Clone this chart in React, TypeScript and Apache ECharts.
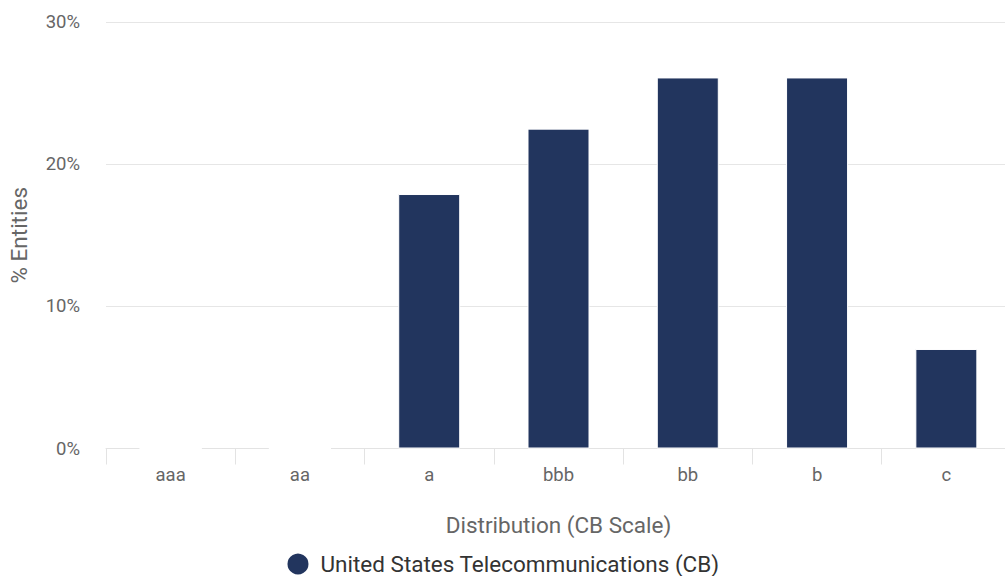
import React, { useEffect, useRef } from "react";
import * as echarts from "echarts";

const categories = ["aaa", "aa", "a", "bbb", "bb", "b", "c"];
const seriesName = "United States Telecommunications (CB)";
const values = [0, 0, 17.9, 22.5, 26.1, 26.1, 7.0];
const yTicks = [0, 10, 20, 30];

export default function App() {
  const ref = useRef<HTMLDivElement>(null);

  useEffect(() => {
    if (!ref.current) return;
    const chart = echarts.init(ref.current, null, { renderer: "svg" });
    const font = "Roboto, 'Noto Sans', sans-serif";
    chart.setOption({
      animation: false,
      textStyle: { fontFamily: font },
      grid: {
        left: 106,
        top: 22,
        width: 905,
        height: 426.5,
        outerBoundsMode: "none",
        containLabel: false,
      },
      legend: {
        top: 551.5,
        left: "center",
        padding: 0,
        icon: "circle",
        itemWidth: 23,
        itemHeight: 23,
        itemGap: 10,
        textStyle: {
          fontSize: 22.5,
          color: "#333",
          fontFamily: font,
          padding: [0, 0, 0, 6],
        },
        data: [seriesName],
      },
      xAxis: {
        type: "category",
        data: categories,
        name: "Distribution (CB Scale)",
        nameLocation: "middle",
        nameGap: 65,
        nameMoveOverlap: false,
        nameTextStyle: { fontSize: 22.5, color: "#666", fontFamily: font },
        axisLine: { lineStyle: { color: "#e3e3e3", width: 1 } },
        axisTick: { show: true, length: 16, lineStyle: { color: "#e3e3e3" } },
        axisLabel: { fontSize: 18.5, color: "#666", margin: 17, fontFamily: font },
      },
      yAxis: {
        type: "value",
        min: yTicks[0],
        max: yTicks[yTicks.length - 1],
        interval: 10,
        name: "% Entities",
        nameLocation: "middle",
        nameGap: 76,
        nameMoveOverlap: false,
        nameTextStyle: { fontSize: 22.5, color: "#666", fontFamily: font },
        axisLine: { show: false },
        axisTick: { show: false },
        axisLabel: {
          fontSize: 18.5,
          color: "#666",
          margin: 26,
          fontFamily: font,
          formatter: (v: number) => `${v}%`,
        },
        splitLine: { lineStyle: { color: "#e6e6e6", width: 1 } },
      },
      series: [
        {
          name: seriesName,
          type: "bar",
          data: values,
          barWidth: 62,
          itemStyle: { color: "#22355e", borderColor: "#ffffff", borderWidth: 1 },
        },
      ],
    });
    return () => chart.dispose();
  }, []);

  return (
    <div
      ref={ref}
      style={{ position: "fixed", left: 0, top: 0, width: 1005, height: 576, background: "#fff" }}
    />
  );
}
